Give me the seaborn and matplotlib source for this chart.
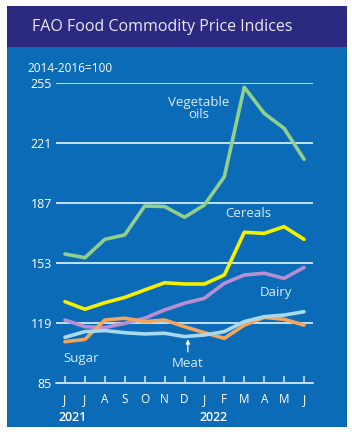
import matplotlib
matplotlib.use("Agg")
import matplotlib.pyplot as plt
import seaborn as sns
import pandas as pd
from matplotlib.patches import Rectangle

months = ["J", "J", "A", "S", "O", "N", "D", "J", "F", "M", "A", "M", "J"]
years = ["2021", "2022"]
yticks = [85, 119, 153, 187, 221, 255]

veg_oils = [158.1, 156.0, 166.4, 168.9, 185.3, 185.0, 178.9, 185.9, 201.9, 252.6, 237.8, 229.3, 211.8]
cereals = [131.1, 126.8, 130.5, 133.5, 137.7, 141.8, 141.1, 141.1, 146.2, 170.4, 169.8, 173.6, 166.4]
dairy = [120.7, 116.9, 116.4, 118.8, 121.7, 126.4, 130.2, 133.0, 141.5, 146.2, 147.2, 144.3, 150.5]
sugar = [108.4, 109.7, 120.7, 121.7, 119.8, 120.7, 116.9, 113.5, 110.3, 117.8, 122.2, 121.1, 117.8]
meat = [110.9, 114.1, 114.7, 113.5, 112.8, 113.2, 111.3, 112.2, 114.1, 119.8, 122.6, 123.5, 125.4]

series = {
    "Vegetable oils": (veg_oils, "#90CF8C"),
    "Cereals": (cereals, "#F4F000"),
    "Dairy": (dairy, "#B98FD4"),
    "Sugar": (sugar, "#F2A55C"),
    "Meat": (meat, "#A9D9EF"),
}

rows = []
for name, (vals, _) in series.items():
    for i, v in enumerate(vals):
        rows.append({"series": name, "month": i, "value": v})
df = pd.DataFrame(rows)

sns.set_theme(style="white")
plt.rcParams["font.family"] = ["Open Sans", "DejaVu Sans"]

W, H = 352, 434
fig = plt.figure(figsize=(W / 100, H / 100), dpi=100)
fig.patch.set_facecolor("white")

BLUE = "#0B6BB7"
NAVY = "#2B2A80"
GRID = "#C3E1F4"

def fx(px):
    return px / W

def fy(py):
    return 1 - py / H

fig.add_artist(Rectangle((fx(7), fy(427)), fx(347) - fx(7), fy(6) - fy(427),
                         transform=fig.transFigure, facecolor=BLUE, edgecolor="none", zorder=0))
fig.add_artist(Rectangle((fx(7), fy(47)), fx(347) - fx(7), fy(6) - fy(47),
                         transform=fig.transFigure, facecolor=NAVY, edgecolor="none", zorder=0))

fig.text(fx(32), fy(27), "FAO Food Commodity Price Indices", color="#E8E8F4",
         fontsize=11.5, va="center", ha="left")
fig.text(fx(27), fy(68), "2014-2016=100", color="white", fontsize=8.5, va="center", ha="left")

ax = fig.add_axes([fx(56), fy(383), fx(313) - fx(56), fy(83) - fy(383)])
ax.set_facecolor("none")
ax.set_xlim(-0.45, 12.45)
ax.set_ylim(85, 255)

for yv in yticks[1:]:
    ax.axhline(yv, color=GRID, lw=1.4, zorder=1)
ax.axhline(85, color=GRID, lw=1.4, zorder=1, clip_on=False)

palette = {k: c for k, (v, c) in series.items()}
for name in series:
    sns.lineplot(data=df[df["series"] == name], x="month", y="value", color=palette[name],
                 lw=2.6, ax=ax, zorder=3, legend=False)

for s in ax.spines.values():
    s.set_visible(False)

ax.set_xticks(range(13))
ax.set_xticklabels(months)
ax.set_yticks(yticks)
ax.set_yticklabels([str(v) for v in yticks])
ax.tick_params(axis="x", direction="in", length=5, width=1.2, color=GRID,
               labelcolor="white", labelsize=8.5, pad=7, bottom=True)
ax.tick_params(axis="y", length=0, labelcolor="white", labelsize=9, pad=3)
ax.set_xlabel("")
ax.set_ylabel("")

ax.text(0.4, -0.115, years[0], transform=ax.get_xaxis_transform(), color="white",
        fontsize=9, ha="center", va="center", fontweight="semibold")
ax.text(7.45, -0.115, years[1], transform=ax.get_xaxis_transform(), color="white",
        fontsize=9, ha="center", va="center", fontweight="semibold")

lab_col = "#D8ECF8"
fs = 9.5
ax.text(6.7, 240.5, "Vegetable\noils", color=lab_col, fontsize=fs, ha="center", va="center",
        linespacing=0.95)
ax.text(9.2, 180.8, "Cereals", color=lab_col, fontsize=fs, ha="center", va="center")
ax.text(10.6, 136.5, "Dairy", color=lab_col, fontsize=fs, ha="center", va="center")
ax.text(0.8, 99.0, "Sugar", color=lab_col, fontsize=fs, ha="center", va="center")
ax.text(6.17, 96.0, "Meat", color=lab_col, fontsize=fs, ha="center", va="center")
ax.annotate("", xy=(6.17, 111.3), xytext=(6.17, 101.0),
            arrowprops=dict(arrowstyle="-|>", color="white", lw=0.9, mutation_scale=6))

fig.savefig("out.png", dpi=100, facecolor="white")
